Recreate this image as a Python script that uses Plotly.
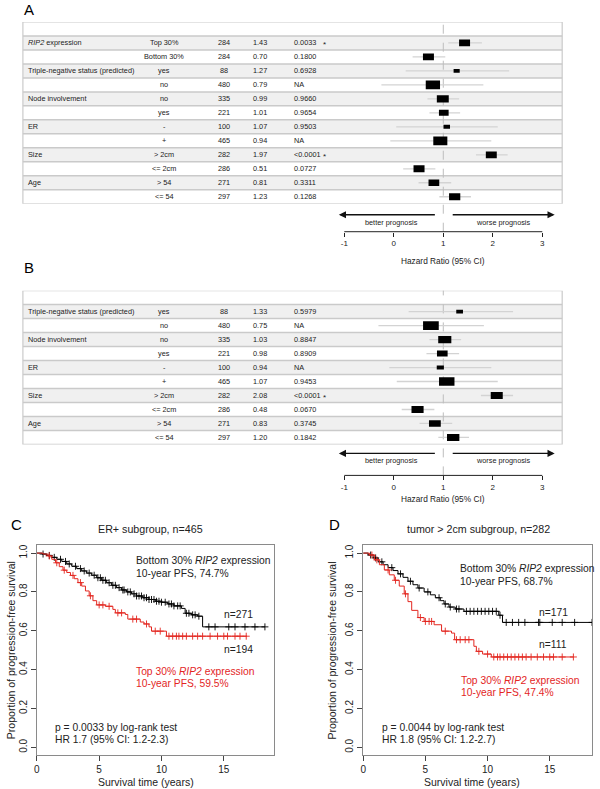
import plotly.graph_objects as go

W, H = 600, 789
FONT = "Liberation Sans, Arial, sans-serif"

# ---------------- data: panel A ----------------
A_group = ["<i>RIP2</i> expression", "", "Triple-negative status (predicted)", "", "Node involvement", "",
           "ER", "", "Size", "", "Age", ""]
A_level = ["Top 30%", "Bottom 30%", "yes", "no", "no", "yes", "-", "+", "> 2cm", "<= 2cm", "> 54", "<= 54"]
A_n = [284, 284, 88, 480, 335, 221, 100, 465, 282, 286, 271, 297]
A_hr = [1.43, 0.70, 1.27, 0.79, 0.99, 1.01, 1.07, 0.94, 1.97, 0.51, 0.81, 1.23]
A_p = ["0.0033", "0.1800", "0.6928", "NA", "0.9660", "0.9654", "0.9503", "NA", "<0.0001", "0.0727", "0.3311", "0.1268"]
A_sig = [True, False, False, False, False, False, False, False, True, False, False, False]
A_lo = [1.10, 0.38, 0.24, -0.25, 0.68, 0.72, 0.05, -0.07, 1.66, 0.19, 0.50, 0.92]
A_hi = [1.78, 1.04, 2.33, 1.81, 1.32, 1.34, 2.10, 1.97, 2.30, 0.84, 1.16, 1.56]

# ---------------- data: panel B ----------------
B_group = ["Triple-negative status (predicted)", "", "Node involvement", "", "ER", "", "Size", "", "Age", ""]
B_level = ["yes", "no", "no", "yes", "-", "+", "> 2cm", "<= 2cm", "> 54", "<= 54"]
B_n = [88, 480, 335, 221, 100, 465, 282, 286, 271, 297]
B_hr = [1.33, 0.75, 1.03, 0.98, 0.94, 1.07, 2.08, 0.48, 0.83, 1.20]
B_p = ["0.5979", "NA", "0.8847", "0.8909", "NA", "0.9453", "<0.0001", "0.0670", "0.3745", "0.1842"]
B_sig = [False, False, False, False, False, False, True, False, False, False]
B_lo = [0.30, -0.31, 0.72, 0.66, -0.09, 0.06, 1.76, 0.16, 0.52, 0.90]
B_hi = [2.41, 1.82, 1.36, 1.32, 1.97, 2.10, 2.41, 0.82, 1.18, 1.52]

HR_TICKS = [-1, 0, 1, 2, 3]

# ---------------- data: KM panel C (ER+ subgroup) ----------------
C_black_t = [0, 0.4, 0.8, 1.2, 1.6, 2.0, 2.4, 2.8, 3.2, 3.6, 4.0, 4.4, 4.8, 5.2, 5.6, 6.0, 6.4, 6.8, 7.2, 7.6,
             8.0, 8.5, 9.0, 9.5, 10.0, 10.5, 11.0, 11.6, 11.9, 12.4, 12.9, 13.3]
C_black_s = [1.0, 0.995, 0.988, 0.978, 0.968, 0.957, 0.944, 0.932, 0.92, 0.908, 0.897, 0.886, 0.873, 0.86, 0.847,
             0.834, 0.822, 0.81, 0.80, 0.79, 0.779, 0.77, 0.761, 0.752, 0.747, 0.738, 0.728, 0.715, 0.69, 0.682,
             0.675, 0.62]
C_black_end = 18.3
C_black_cens = [0.5, 1.0, 1.4, 1.9, 2.3, 2.6, 3.1, 3.5, 3.8, 4.2, 4.6, 4.9, 5.1, 5.3, 5.5, 5.8, 6.1, 6.3, 6.6,
                6.9, 7.0, 7.3, 7.5, 7.8, 8.0, 8.2, 8.4, 8.6, 8.8, 9.0, 9.2, 9.4, 9.6, 9.8, 10.0, 10.3, 10.6, 10.8,
                11.0, 11.3, 11.5, 12.0, 12.2, 12.5, 12.7, 13.0, 13.8, 14.3, 15.4, 15.9, 16.7, 17.5, 18.3]
C_red_t = [0, 0.5, 0.9, 1.2, 1.5, 1.8, 2.1, 2.4, 2.7, 3.0, 3.3, 3.6, 3.9, 4.2, 4.5, 4.8, 5.5, 6.1, 6.3, 7.1,
           7.3, 8.3, 8.6, 9.0, 9.2, 10.4]
C_red_s = [1.0, 0.995, 0.985, 0.968, 0.95, 0.93, 0.912, 0.90, 0.885, 0.868, 0.848, 0.83, 0.805, 0.78, 0.755,
           0.733, 0.726, 0.71, 0.692, 0.684, 0.66, 0.645, 0.635, 0.62, 0.598, 0.572]
C_red_end = 16.85
C_red_cens = [1.0, 1.6, 2.2, 2.9, 3.5, 4.3, 5.0, 5.3, 5.8, 6.5, 6.8, 7.7, 8.0, 8.8, 9.5, 9.9, 10.6, 10.9, 11.2,
              11.4, 11.7, 12.0, 12.5, 12.9, 13.3, 13.9, 14.5, 15.0, 15.3, 15.9, 16.3, 16.8]

# ---------------- data: KM panel D (tumor > 2cm subgroup) ----------------
D_black_t = [0, 0.4, 0.8, 1.2, 1.6, 2.0, 2.4, 2.8, 3.2, 3.6, 4.0, 4.4, 4.9, 5.4, 5.8, 6.2, 6.5, 6.9, 7.4, 8.1,
             10.9, 11.2]
D_black_s = [1.0, 0.99, 0.975, 0.955, 0.94, 0.925, 0.91, 0.893, 0.875, 0.855, 0.837, 0.82, 0.80, 0.785, 0.77,
             0.755, 0.738, 0.722, 0.712, 0.70, 0.68, 0.643]
D_black_end = 18.4
D_black_cens = [0.6, 1.0, 1.5, 2.3, 3.0, 3.8, 4.5, 5.2, 6.1, 6.6, 7.0, 7.5, 7.7, 8.3, 8.6, 8.9, 9.2, 9.5, 9.8,
                10.1, 10.4, 10.7, 11.0, 11.5, 12.0, 12.5, 13.0, 14.1, 14.2, 15.2, 16.0, 17.0, 18.4]
D_red_t = [0, 0.5, 0.9, 1.3, 1.7, 2.1, 2.5, 2.9, 3.3, 3.6, 3.9, 4.4, 4.9, 5.7, 6.3, 7.1, 7.35, 8.9, 9.1, 9.6, 10.3]
D_red_s = [1.0, 0.99, 0.965, 0.94, 0.913, 0.888, 0.86, 0.83, 0.79, 0.75, 0.705, 0.668, 0.648, 0.631, 0.598,
           0.588, 0.554, 0.52, 0.494, 0.48, 0.465]
D_red_end = 16.9
D_red_cens = [0.7, 1.1, 2.0, 2.6, 3.4, 4.6, 5.0, 5.3, 5.5, 6.6, 7.5, 7.8, 8.2, 8.5, 9.3, 10.0, 10.5, 10.8, 11.0,
              11.3, 11.6, 11.9, 12.2, 12.5, 12.8, 13.1, 13.5, 14.0, 14.5, 15.0, 15.3, 16.0, 16.9]

KM_XTICKS = [0, 5, 10, 15]
KM_YTICKS = [0.0, 0.2, 0.4, 0.6, 0.8, 1.0]


def px(x):
    return x / W


def py(y):
    return 1 - y / H


RED = "#e3261f"
TXT = "#222222"

fig = go.Figure()
shapes = []
annotations = []

# HR axis pixel mapping: HR=1 at x=442.5, 49.75 px per unit
HR_PX1, HR_PPU = 442.5, 49.75
HR_RANGE = [1 - HR_PX1 / HR_PPU, 1 + (W - HR_PX1) / HR_PPU]


def forest(xa, ya, group, level, n, hr, p, sig, lo, hi, top, row_h, axis_y, arrow_y, arrow_lbl_y,
           title_y, wscale, hratio, label, label_y, sig_x):
    nrows = len(group)
    bottom = top + row_h * (nrows + 1)
    xname = "xaxis" if xa == "x" else "xaxis" + xa[1:]
    yname = "yaxis" if ya == "y" else "yaxis" + ya[1:]
    fig.layout[xname] = dict(domain=[0, 1], range=HR_RANGE, anchor="free", position=py(axis_y),
                             showgrid=False, zeroline=False, showline=False, tickvals=HR_TICKS,
                             ticktext=[str(v) for v in HR_TICKS],
                             ticks="outside", ticklen=4, tickwidth=1, tickcolor="#222",
                             tickfont=dict(size=8, color=TXT, family=FONT), fixedrange=True)
    fig.layout[yname] = dict(domain=[py(bottom), py(top)], range=[nrows + 0.5, -0.5], anchor=xa,
                             visible=False, fixedrange=True)
    # row backgrounds
    for k in range(nrows + 1):
        fill = "#f0f0f0" if k % 2 == 1 else "#ffffff"
        shapes.append(dict(type="rect", xref="paper", yref=ya, x0=px(20), x1=px(562), y0=k - 0.5, y1=k + 0.5,
                           fillcolor=fill, line=dict(width=0), layer="below"))
    for k in range(nrows):
        shapes.append(dict(type="line", xref="paper", yref=ya, x0=px(20), x1=px(562), y0=k + 0.5, y1=k + 0.5,
                           line=dict(color="#cacaca", width=1.5), layer="below"))
    shapes.append(dict(type="rect", xref="paper", yref=ya, x0=px(20), x1=px(562), y0=-0.5, y1=nrows + 0.5,
                       line=dict(color="#cacaca", width=1.2), layer="below"))
    # dashed reference line at HR = 1
    shapes.append(dict(type="line", xref=xa, yref="paper", x0=1, x1=1, y0=py(axis_y), y1=py(top),
                       line=dict(color="#bdbdbd", width=1, dash="dash"), layer="below"))
    # axis line from -1 to 3
    shapes.append(dict(type="line", xref=xa, yref="paper", x0=HR_TICKS[0], x1=HR_TICKS[-1],
                       y0=py(axis_y), y1=py(axis_y), line=dict(color="#222", width=1)))
    # CI lines
    xs, ys = [], []
    for i in range(nrows):
        xs += [lo[i], hi[i], None]
        ys += [i + 1, i + 1, None]
    fig.add_trace(go.Scatter(x=xs, y=ys, mode="lines", xaxis=xa, yaxis=ya,
                             line=dict(color="#d3d3d3", width=1.3), hoverinfo="skip", showlegend=False))
    # boxes sized by sqrt(n)
    for i in range(nrows):
        wpx = wscale * n[i] ** 0.5
        hpx = hratio * wpx
        shapes.append(dict(type="rect", xref=xa, yref=ya,
                           x0=hr[i] - wpx / 2 / HR_PPU, x1=hr[i] + wpx / 2 / HR_PPU,
                           y0=i + 1 - hpx / 2 / row_h, y1=i + 1 + hpx / 2 / row_h,
                           fillcolor="black", line=dict(width=0)))
    f = dict(size=7.3, color=TXT, family=FONT)
    # headers
    for txt, x, anc in [("n", 222, "center"), ("HR", 258, "center"), ("p-value", 290, "left")]:
        annotations.append(dict(text=txt, xref="paper", yref=ya, x=px(x), y=-1.05, showarrow=False,
                                xanchor=anc, yanchor="middle", font=f))
    for i in range(nrows):
        r = i + 1
        if group[i]:
            annotations.append(dict(text=group[i], xref="paper", yref=ya, x=px(23), y=r, showarrow=False,
                                    xanchor="left", yanchor="middle", font=f))
        annotations.append(dict(text=level[i], xref="paper", yref=ya, x=px(162), y=r, showarrow=False,
                                xanchor="center", yanchor="middle", font=f))
        annotations.append(dict(text=str(n[i]), xref="paper", yref=ya, x=px(222), y=r, showarrow=False,
                                xanchor="center", yanchor="middle", font=f))
        annotations.append(dict(text="%.2f" % hr[i], xref="paper", yref=ya, x=px(258), y=r, showarrow=False,
                                xanchor="center", yanchor="middle", font=f))
        annotations.append(dict(text=p[i], xref="paper", yref=ya, x=px(290), y=r, showarrow=False,
                                xanchor="left", yanchor="middle", font=f))
        if sig[i]:
            annotations.append(dict(text="*", xref="paper", yref=ya, x=px(sig_x), y=r + 0.12,
                                    showarrow=False, xanchor="left", yanchor="middle",
                                    font=dict(size=8, color=TXT, family=FONT)))
    # arrows
    annotations.append(dict(x=-1.11, y=py(arrow_y), xref=xa, yref="paper", ax=0.86, ay=0, axref=xa,
                            ayref="pixel", showarrow=True, arrowhead=2, arrowsize=1.1, arrowwidth=1.3,
                            arrowcolor="#111", text=""))
    annotations.append(dict(x=3.25, y=py(arrow_y), xref=xa, yref="paper", ax=1.16, ay=0, axref=xa,
                            ayref="pixel", showarrow=True, arrowhead=2, arrowsize=1.1, arrowwidth=1.3,
                            arrowcolor="#111", text=""))
    annotations.append(dict(text="better prognosis", x=-0.05, y=py(arrow_lbl_y), xref=xa, yref="paper",
                            showarrow=False, xanchor="center", yanchor="middle", font=f))
    annotations.append(dict(text="worse prognosis", x=2.2, y=py(arrow_lbl_y), xref=xa, yref="paper",
                            showarrow=False, xanchor="center", yanchor="middle", font=f))
    annotations.append(dict(text="Hazard Ratio (95% CI)", x=1, y=py(title_y), xref=xa, yref="paper",
                            showarrow=False, xanchor="center", yanchor="middle",
                            font=dict(size=8.3, color=TXT, family=FONT)))
    annotations.append(dict(text=label, x=px(26), y=py(label_y), xref="paper", yref="paper", showarrow=False,
                            xanchor="center", yanchor="middle", font=dict(size=15, color="black", family=FONT)))


forest("x", "y", A_group, A_level, A_n, A_hr, A_p, A_sig, A_lo, A_hi, top=21, row_h=14, axis_y=231,
       arrow_y=214, arrow_lbl_y=222, title_y=260, wscale=0.655, hratio=0.62, label="A", label_y=9, sig_x=320)
forest("x2", "y2", B_group, B_level, B_n, B_hr, B_p, B_sig, B_lo, B_hi, top=290, row_h=14, axis_y=475,
       arrow_y=453, arrow_lbl_y=460, title_y=499, wscale=0.72, hratio=0.56, label="B", label_y=267, sig_x=320)


# ---------------- KM panels ----------------
def surv_at(times, surv, t):
    s = surv[0]
    for ti, si in zip(times, surv):
        if ti <= t:
            s = si
    return s


def km_panel(xa, ya, xdom, xmax, curves, title, title_x, label, label_x, ytitle_x, xtitle_x, texts):
    xname = "xaxis" + xa[1:]
    yname = "yaxis" + ya[1:]
    fig.layout[xname] = dict(domain=[px(xdom[0]), px(xdom[1])], range=[0, xmax], anchor=ya,
                             showgrid=False, zeroline=False, showline=True, mirror=True, linecolor="#8a8a8a",
                             linewidth=1, tickvals=KM_XTICKS, ticks="outside", ticklen=5, tickcolor="#444",
                             tickfont=dict(size=10, color=TXT, family=FONT), fixedrange=True)
    fig.layout[yname] = dict(domain=[py(755), py(545)], range=[-0.04, 1.04], anchor=xa,
                             showgrid=False, zeroline=False, showline=True, mirror=True, linecolor="#8a8a8a",
                             linewidth=1, tickvals=KM_YTICKS, ticktext=["%.1f" % v for v in KM_YTICKS],
                             ticks="outside", ticklen=5, tickcolor="#444", tickangle=-90,
                             tickfont=dict(size=10, color=TXT, family=FONT), fixedrange=True)
    for t, s, end, cens, col in curves:
        fig.add_trace(go.Scatter(x=t + [end], y=s + [s[-1]], mode="lines", line_shape="hv",
                                 line=dict(color=col, width=1), xaxis=xa, yaxis=ya, showlegend=False,
                                 hoverinfo="skip"))
        fig.add_trace(go.Scatter(x=cens, y=[surv_at(t, s, c) for c in cens], mode="markers",
                                 marker=dict(symbol="cross-thin", size=5, line=dict(color=col, width=0.9)),
                                 xaxis=xa, yaxis=ya, showlegend=False, hoverinfo="skip"))
    annotations.append(dict(text=title, x=px(title_x), y=py(529), xref="paper", yref="paper", showarrow=False,
                            xanchor="center", yanchor="middle", font=dict(size=10.7, color=TXT, family=FONT)))
    annotations.append(dict(text=label, x=px(label_x), y=py(524), xref="paper", yref="paper", showarrow=False,
                            xanchor="center", yanchor="middle", font=dict(size=15, color="black", family=FONT)))
    annotations.append(dict(text="Survival time (years)", x=px(xtitle_x), y=py(782),
                            xref="paper", yref="paper", showarrow=False, xanchor="center", yanchor="middle",
                            font=dict(size=10.5, color=TXT, family=FONT)))
    annotations.append(dict(text="Proportion of progression-free survival", x=px(ytitle_x), y=py(650),
                            xref="paper", yref="paper", showarrow=False, textangle=-90, xanchor="center",
                            yanchor="middle", font=dict(size=10.5, color=TXT, family=FONT)))
    for txt, x, y, col, anc in texts:
        annotations.append(dict(text=txt, x=px(x), y=py(y), xref="paper", yref="paper", showarrow=False,
                                xanchor=anc, yanchor="middle", font=dict(size=10.3, color=col, family=FONT)))


km_panel("x3", "y3", (34, 272), 19.0,
         [(C_black_t, C_black_s, C_black_end, C_black_cens, "black"),
          (C_red_t, C_red_s, C_red_end, C_red_cens, RED)],
         "ER+ subgroup, n=465", 148, "C", 14, 8, 144,
         [("Bottom 30% <i>RIP2</i> expression", 132, 560, TXT, "left"),
          ("10-year PFS, 74.7%", 132, 573, TXT, "left"),
          ("n=271", 237, 614, TXT, "center"),
          ("n=194", 237, 649, TXT, "center"),
          ("Top 30% <i>RIP2</i> expression", 132, 671, RED, "left"),
          ("10-year PFS, 59.5%", 132, 683, RED, "left"),
          ("p = 0.0033 by log-rank test", 50, 727, TXT, "left"),
          ("HR 1.7 (95% CI: 1.2-2.3)", 50, 739, TXT, "left")])

km_panel("x4", "y4", (362, 592), 18.4,
         [(D_black_t, D_black_s, D_black_end, D_black_cens, "black"),
          (D_red_t, D_red_s, D_red_end, D_red_cens, RED)],
         "tumor > 2cm subgroup, n=282", 478, "D", 333, 331, 471,
         [("Bottom 30% <i>RIP2</i> expression", 457, 568, TXT, "left"),
          ("10-year PFS, 68.7%", 457, 581, TXT, "left"),
          ("n=171", 553, 612, TXT, "center"),
          ("n=111", 553, 644, TXT, "center"),
          ("Top 30% <i>RIP2</i> expression", 458, 680, RED, "left"),
          ("10-year PFS, 47.4%", 458, 692, RED, "left"),
          ("p = 0.0044 by log-rank test", 379, 727, TXT, "left"),
          ("HR 1.8 (95% CI: 1.2-2.7)", 379, 739, TXT, "left")])

fig.update_layout(width=W, height=H, margin=dict(l=0, r=0, t=0, b=0), paper_bgcolor="white",
                  plot_bgcolor="white", showlegend=False, shapes=shapes, annotations=annotations,
                  font=dict(family=FONT, color=TXT))

fig.write_html("out.html", config={"displayModeBar": False},
               post_script="document.body.style.margin='0';document.body.style.overflow='hidden';")
